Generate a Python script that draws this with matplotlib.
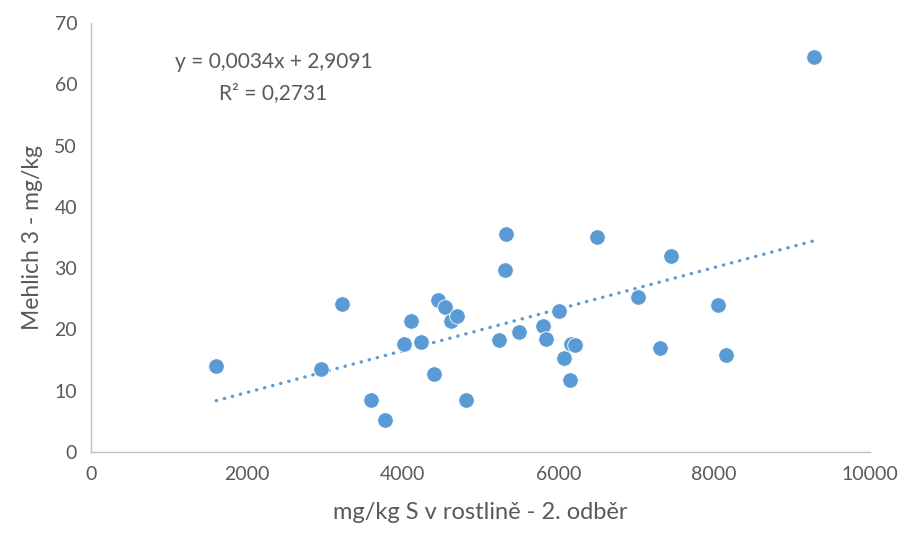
import matplotlib
matplotlib.use("Agg")
import matplotlib.pyplot as plt
import numpy as np

plt.rcParams['font.family'] = ['Lato', 'DejaVu Sans']

# Data
s_plant = [1607, 2956, 3226, 3599, 3779, 4023, 4113, 4242, 4409, 4460,
           4550, 4627, 4692, 4820, 5231, 5308, 5321, 5488, 5797, 5835,
           6003, 6067, 6144, 6157, 6208, 6491, 7018, 7442, 7301, 8046,
           8149, 9280]
mehlich3 = [14.0, 13.5, 24.1, 8.5, 5.2, 17.6, 21.4, 17.9, 12.7, 24.8,
            23.7, 21.4, 22.2, 8.5, 18.3, 29.7, 35.6, 19.6, 20.6, 18.4,
            23.0, 15.3, 11.7, 17.6, 17.5, 35.1, 25.3, 32.0, 17.0, 24.0,
            15.8, 64.4]
slope = 0.0034
intercept = 2.9091
eq_text = "y = 0,0034x + 2,9091"
r2_text = "R² = 0,2731"
x_ticks = [0, 2000, 4000, 6000, 8000, 10000]
y_ticks = [0, 10, 20, 30, 40, 50, 60, 70]

color = "#5B9BD5"
gray = "#595959"

fig = plt.figure(figsize=(9.04, 5.35), dpi=100)
ax = fig.add_axes([0.1007, 0.1551, 0.8617, 0.8019])

ax.scatter(s_plant, mehlich3, s=125, color=color, edgecolors='white',
           linewidths=0.6, zorder=3)

xs = np.array([min(s_plant), max(s_plant)])
ax.plot(xs, slope * xs + intercept, color=color, lw=2.4,
        linestyle=(0, (0.1, 2.4)), dash_capstyle='round', zorder=2)

ax.set_xlim(0, 10000)
ax.set_ylim(0, 70)
ax.set_xticks(x_ticks)
ax.set_yticks(y_ticks)
ax.tick_params(length=0, labelsize=14, colors=gray, pad=10)
for sp in ['top', 'right']:
    ax.spines[sp].set_visible(False)
for sp in ['left', 'bottom']:
    ax.spines[sp].set_color('#BFBFBF')
    ax.spines[sp].set_linewidth(1.0)

ax.set_xlabel("mg/kg S v rostlině - 2. odběr", fontsize=17, color=gray, labelpad=14)
ax.set_ylabel("Mehlich 3 - mg/kg", fontsize=16.5, color=gray, labelpad=8)

ax.text(2340, 63.6, eq_text, ha='center', va='center', fontsize=15, color=gray)
ax.text(2340, 58.6, r2_text, ha='center', va='center', fontsize=15, color=gray)

fig.savefig("out.png", dpi=100)
